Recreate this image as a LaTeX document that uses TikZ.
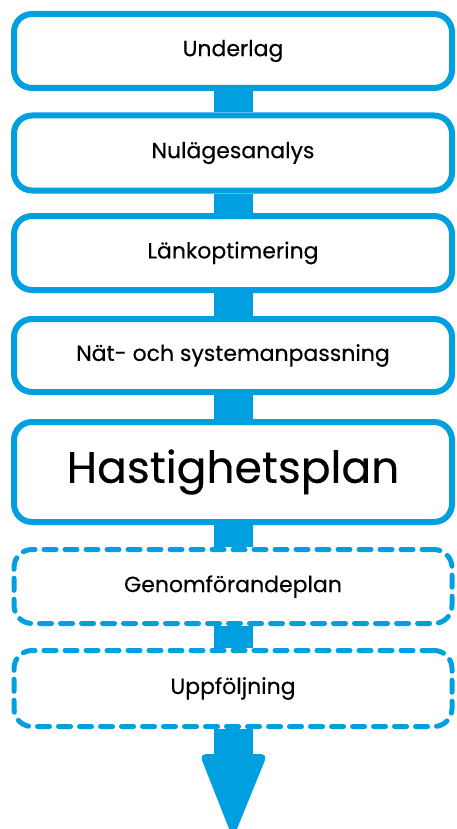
\documentclass[tikz,border=0pt]{standalone}
\usepackage{fontspec}
\setmainfont{Poppins}
\newfontfamily\labelfont{Poppins}[FakeBold=0.3]
\usetikzlibrary{backgrounds}
\definecolor{flowblue}{HTML}{00A0E0}
\tikzset{
  stagebox/.style={draw=flowblue, line width=6pt, fill=white, rounded corners=18pt,
    minimum width=438pt, inner sep=0pt, font=\labelfont\fontsize{22}{25}\selectfont, text=black},
  planbox/.style={stagebox, dash pattern=on 12pt off 9pt, line cap=round, line width=5pt},
  stem/.style={draw=flowblue, line width=39pt},
  headshape/.style={fill=flowblue, draw=flowblue, line width=2pt, line join=round, rounded corners=5pt}
}
\begin{document}
\begin{tikzpicture}[x=1pt,y=-1pt]
\useasboundingbox (0,0) rectangle (456,829);
% boxes
\node[stagebox, minimum height=74pt] (b1) at (233,51) {Underlag};
\node[stagebox, minimum height=75pt] (b2) at (233,153) {Nulägesanalys};
\node[stagebox, minimum height=74pt] (b3) at (233,253) {Länkoptimering};
\node[stagebox, minimum height=73pt] (b4) at (233,355.5) {Nät- och systemanpassning};
\node[stagebox, minimum height=100pt, font=\labelfont\fontsize{44}{50}\selectfont] (b5) at (233,472) {Hastighetsplan};
\node[planbox, minimum height=74pt] (b6) at (233,586.5) {Genomförandeplan};
\node[planbox, minimum height=76pt] (b7) at (233,688.5) {Uppföljning};
\coordinate (headtop) at (233,755);
\coordinate (tip) at (233,836);
% connectors behind the boxes
\begin{scope}[on background layer]
\draw[stem] (b1.south) -- (b2.north);
\draw[stem] (b2.south) -- (b3.north);
\draw[stem] (b3.south) -- (b4.north);
\draw[stem] (b4.south) -- (b5.north);
\draw[stem] (b5.south) -- (b6.north);
\draw[stem] (b6.south) -- (b7.north);
\draw[stem] (b7.south) -- (headtop);
\filldraw[headshape] ([xshift=-32pt]headtop) -- ([xshift=33pt]headtop) -- (tip) -- cycle;
\end{scope}
\end{tikzpicture}
\end{document}
